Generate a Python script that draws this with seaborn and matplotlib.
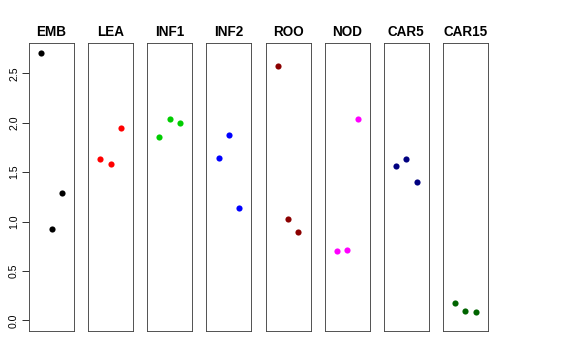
import numpy as np
import pandas as pd
import matplotlib
matplotlib.use("Agg")
import matplotlib.pyplot as plt
import seaborn as sns

# values, three replicates per tissue
tissues = ["EMB", "LEA", "INF1", "INF2", "ROO", "NOD", "CAR5", "CAR15"]
colors = ["black", "red", "#00CD00", "blue", "#8B0000", "magenta", "#000080", "#006400"]
rep1 = [2.71, 1.63, 1.86, 1.64, 2.58, 0.70, 1.56, 0.18]
rep2 = [0.92, 1.58, 2.04, 1.88, 1.03, 0.71, 1.63, 0.09]
rep3 = [1.29, 1.95, 2.00, 1.14, 0.89, 2.04, 1.40, 0.08]

rows = []
for t, a, b, c in zip(tissues, rep1, rep2, rep3):
    for i, v in enumerate([a, b, c], start=1):
        rows.append({"tissue": t, "index": i, "value": v})
df = pd.DataFrame(rows)

sns.set_theme(style="white")
plt.rcParams["font.family"] = ["Liberation Sans", "DejaVu Sans"]
plt.rcParams["text.color"] = "black"
plt.rcParams["axes.titlecolor"] = "black"
plt.rcParams["ytick.color"] = "black"
plt.rcParams["ytick.labelcolor"] = "black"

W, H = 576, 360
fig = plt.figure(figsize=(W / 72, H / 72), dpi=72)

left0, step, pw = 29, 59.14, 45
bottom, ph = 29, 288

for k, (t, col) in enumerate(zip(tissues, colors)):
    ax = fig.add_axes([(left0 + k * step) / W, bottom / H, pw / W, ph / H])
    sns.scatterplot(data=df[df["tissue"] == t], x="index", y="value",
                    color=col, s=38, linewidth=0, ax=ax, legend=False)
    ax.set_xlim(-0.16, 4.16)
    ax.set_ylim(-0.108, 2.808)
    ax.set_xticks([])
    ax.set_xlabel("")
    ax.set_ylabel("")
    ax.set_title(t, fontsize=13.5, fontweight="bold", pad=7, color="black")
    for sp in ax.spines.values():
        sp.set_visible(True)
        sp.set_color("#444444")
        sp.set_linewidth(0.9)
    if k == 0:
        ax.set_yticks([0.0, 0.5, 1.0, 1.5, 2.0, 2.5])
        ax.set_yticklabels(["0.0", "0.5", "1.0", "1.5", "2.0", "2.5"],
                           rotation=90, va="center", fontsize=10.5,
                           color="black")
        ax.tick_params(axis="y", left=True, length=7, width=0.8,
                       color="black", pad=3)
    else:
        ax.set_yticks([])

fig.savefig("out.png", dpi=72)
